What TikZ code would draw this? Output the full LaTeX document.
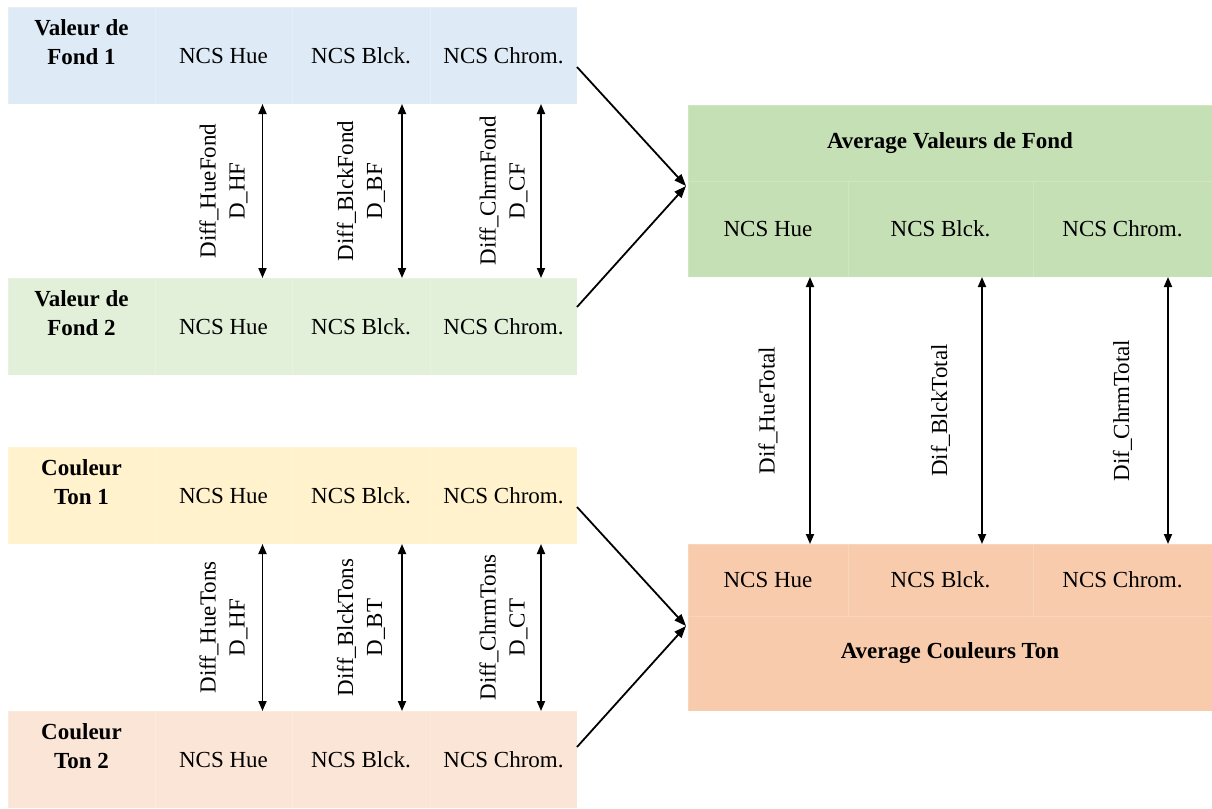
\documentclass[tikz,border=0pt]{standalone}
\usepackage{fontspec}
\setmainfont{Liberation Serif}
\usepackage{tikz}
\usetikzlibrary{positioning}
\usetikzlibrary{arrows.meta}
\usetikzlibrary{calc}
\usepackage{xcolor}
\definecolor{fondA}{HTML}{DEEBF7}
\definecolor{fondB}{HTML}{E2F0D9}
\definecolor{tonA}{HTML}{FFF2CC}
\definecolor{tonB}{HTML}{FBE5D6}
\definecolor{avgFond}{HTML}{C5E0B4}
\definecolor{avgTon}{HTML}{F8CBAD}

\begin{document}
\begin{tikzpicture}[x=0.5pt, y=-0.5pt,
  every node/.style={font=\fontsize{11.5}{14.5}\selectfont},
  cell/.style={draw=white, draw opacity=0.2, line width=0.3pt, inner sep=0pt, outer sep=0pt, minimum height=48.5pt},
  namew/.style={cell, minimum width=73.5pt},
  huew/.style={cell, minimum width=68.5pt},
  blckw/.style={cell, minimum width=69pt},
  chromw/.style={cell, minimum width=73.5pt},
  lbl/.style={align=center, font=\fontsize{11.5}{14.5}\selectfont\bfseries},
  difftxt/.style={align=center, rotate=90},
  dbl/.style={{Triangle[length=5pt,width=4pt]}-{Triangle[length=5pt,width=4pt]}, line width=0.9pt},
  toavg/.style={-{Triangle[length=6pt,width=4.5pt]}, line width=0.9pt}]
\useasboundingbox (0,0) rectangle (1212,809);

\node[namew, fill=fondA, anchor=north west] (f1-name) at (8,7) {};
\node[huew, fill=fondA, right=0pt of f1-name] (f1-hue) {NCS Hue};
\node[blckw, fill=fondA, right=0pt of f1-hue] (f1-blck) {NCS Blck.};
\node[chromw, fill=fondA, right=0pt of f1-blck] (f1-chrom) {NCS Chrom.};
\node[lbl] (f1-lbl) at ([yshift=6.5pt]f1-name.center) {Valeur de\\Fond 1};

\node[namew, fill=fondB, anchor=north west] (f2-name) at (8,278) {};
\node[huew, fill=fondB, right=0pt of f2-name] (f2-hue) {NCS Hue};
\node[blckw, fill=fondB, right=0pt of f2-hue] (f2-blck) {NCS Blck.};
\node[chromw, fill=fondB, right=0pt of f2-blck] (f2-chrom) {NCS Chrom.};
\node[lbl] (f2-lbl) at ([yshift=6.5pt]f2-name.center) {Valeur de\\Fond 2};

\node[namew, fill=tonA, anchor=north west] (t1-name) at (8,447) {};
\node[huew, fill=tonA, right=0pt of t1-name] (t1-hue) {NCS Hue};
\node[blckw, fill=tonA, right=0pt of t1-hue] (t1-blck) {NCS Blck.};
\node[chromw, fill=tonA, right=0pt of t1-blck] (t1-chrom) {NCS Chrom.};
\node[lbl] (t1-lbl) at ([yshift=6.5pt]t1-name.center) {Couleur\\Ton 1};

\node[namew, fill=tonB, anchor=north west] (t2-name) at (8,711) {};
\node[huew, fill=tonB, right=0pt of t2-name] (t2-hue) {NCS Hue};
\node[blckw, fill=tonB, right=0pt of t2-hue] (t2-blck) {NCS Blck.};
\node[chromw, fill=tonB, right=0pt of t2-blck] (t2-chrom) {NCS Chrom.};
\node[lbl] (t2-lbl) at ([yshift=6.5pt]t2-name.center) {Couleur\\Ton 2};

\node[cell, lbl, fill=avgFond, minimum width=262pt, minimum height=38pt, anchor=north west] (avgF-title) at (688,105) {Average Valeurs de Fond};
\node[cell, fill=avgFond, minimum width=80pt, minimum height=48pt, anchor=north west] (avgF-hue) at (avgF-title.south west) {NCS Hue};
\node[cell, fill=avgFond, minimum width=92.5pt, minimum height=48pt, right=0pt of avgF-hue] (avgF-blck) {NCS Blck.};
\node[cell, fill=avgFond, minimum width=89.5pt, minimum height=48pt, right=0pt of avgF-blck] (avgF-chrom) {NCS Chrom.};

\node[cell, fill=avgTon, minimum width=80pt, minimum height=36pt, anchor=north west] (avgT-hue) at (688,544) {NCS Hue};
\node[cell, fill=avgTon, minimum width=92.5pt, minimum height=36pt, right=0pt of avgT-hue] (avgT-blck) {NCS Blck.};
\node[cell, fill=avgTon, minimum width=89.5pt, minimum height=36pt, right=0pt of avgT-blck] (avgT-chrom) {NCS Chrom.};
\node[cell, fill=avgTon, minimum width=262pt, minimum height=47.5pt, anchor=north west] (avgT-title) at (avgT-hue.south west) {};
\node[lbl] (avgT-lbl) at ([yshift=5pt]avgT-title.center) {Average Couleurs Ton};

\draw[dbl] ([xshift=19.5pt]f1-hue.south) -- ([xshift=19.5pt]f2-hue.north);
\draw[dbl] ([xshift=20.5pt]f1-blck.south) -- ([xshift=20.5pt]f2-blck.north);
\draw[dbl] ([xshift=18.75pt]f1-chrom.south) -- ([xshift=18.75pt]f2-chrom.north);
\node[difftxt] (dhf) at ($(f1-hue.south)!0.5!(f2-hue.north)$) {Diff\_HueFond\\D\_HF};
\node[difftxt] (dbf) at ($(f1-blck.south)!0.5!(f2-blck.north)$) {Diff\_BlckFond\\D\_BF};
\node[difftxt] (dcf) at ($(f1-chrom.south)!0.5!(f2-chrom.north)$) {Diff\_ChrmFond\\D\_CF};

\draw[dbl] ([xshift=19.5pt]t1-hue.south) -- ([xshift=19.5pt]t2-hue.north);
\draw[dbl] ([xshift=20.5pt]t1-blck.south) -- ([xshift=20.5pt]t2-blck.north);
\draw[dbl] ([xshift=18.75pt]t1-chrom.south) -- ([xshift=18.75pt]t2-chrom.north);
\node[difftxt] (dht) at ($(t1-hue.south)!0.5!(t2-hue.north)$) {Diff\_HueTons\\D\_HF};
\node[difftxt] (dbt) at ($(t1-blck.south)!0.5!(t2-blck.north)$) {Diff\_BlckTons\\D\_BT};
\node[difftxt] (dct) at ($(t1-chrom.south)!0.5!(t2-chrom.north)$) {Diff\_ChrmTons\\D\_CT};

\draw[dbl] ([xshift=21pt]avgF-hue.south) -- ([xshift=21pt]avgT-hue.north);
\draw[dbl] ([xshift=20.75pt]avgF-blck.south) -- ([xshift=20.75pt]avgT-blck.north);
\draw[dbl] ([xshift=22.75pt]avgF-chrom.south) -- ([xshift=22.75pt]avgT-chrom.north);
\node[difftxt] (dhtot) at ($(avgF-hue.south)!0.5!(avgT-hue.north)$) {Dif\_HueTotal};
\node[difftxt] (dbtot) at ($(avgF-blck.south)!0.5!(avgT-blck.north)$) {Dif\_BlckTotal};
\node[difftxt] (dctot) at ($(avgF-chrom.south)!0.5!(avgT-chrom.north)$) {Dif\_ChrmTotal};

\draw[toavg] ([yshift=-5.75pt]f1-chrom.east) -- ([xshift=-1pt, yshift=-2.5pt]avgF-title.south west);
\draw[toavg] ([yshift=9.75pt]f2-chrom.east) -- ([xshift=-1pt, yshift=-2.5pt]avgF-title.south west);
\draw[toavg] ([yshift=-5.75pt]t1-chrom.east) -- ([xshift=-1pt, yshift=-5pt]avgT-hue.south west);
\draw[toavg] ([yshift=6.25pt]t2-chrom.east) -- ([xshift=-1pt, yshift=-5pt]avgT-hue.south west);
\end{tikzpicture}
\end{document}
